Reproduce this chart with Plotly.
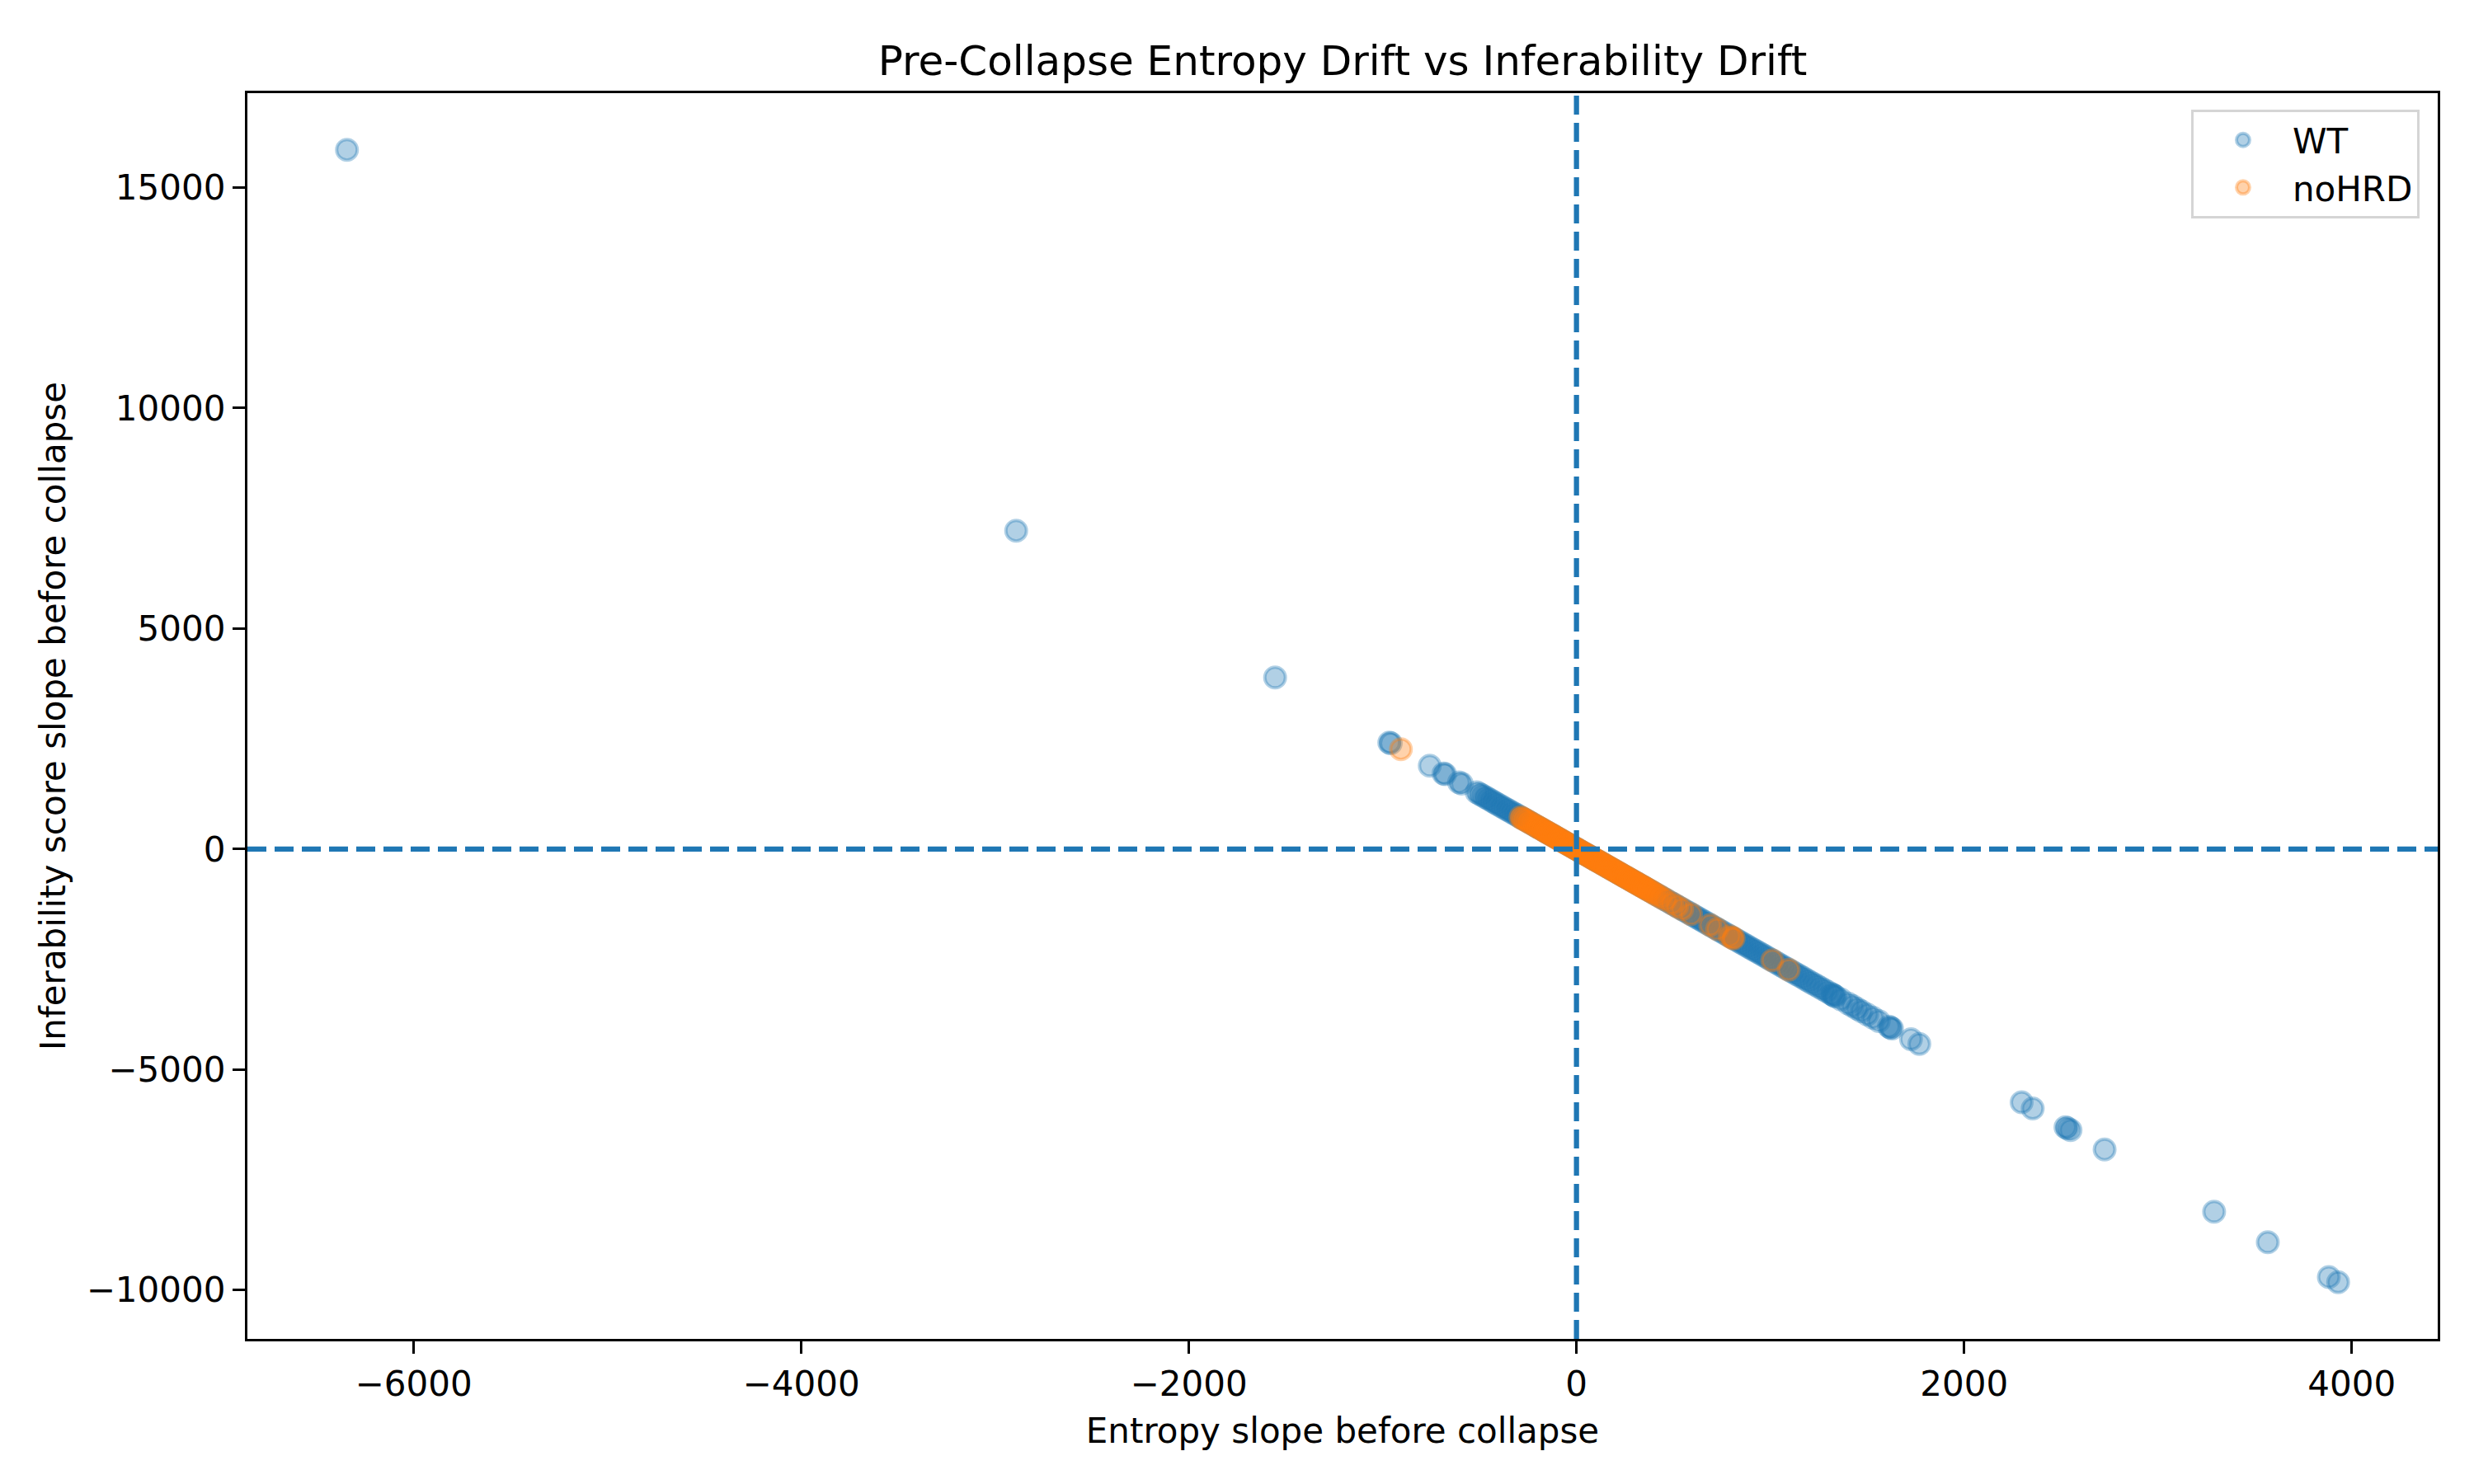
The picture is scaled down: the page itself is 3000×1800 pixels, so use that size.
import plotly.graph_objects as go

# ---- data ----
wt_x = [-6344, -2891, -1555, -966, -958, -757, -686, -678, -606, -592,
        -515, -500, -488, -472, -460, -445, -431, -418, -405, -390, -377, -362, -350, -336, -322,
        -310, -297, -283, -270, -256, -243, -230, -216, -203, -190, -176, -162, -150, -136, -123,
        -110, -96, -83, -70, -57, -43, -30, -17, -4, 9, 22, 36, 49, 62, 76, 89, 102, 116, 129,
        142, 156, 169, 183, 196, 210, 224, 237, 251, 264, 278, 291, 305, 318, 332, 346, 359, 373,
        387, 400, 414, 428, 441, 455, 469, 483, 497, 510, 524, 538, 552, 566, 580, 594, 608, 622,
        636, 650, 664, 678, 692, 706, 720, 734, 748, 762, 777, 791, 805, 819, 834, 848, 862, 877,
        891, 906, 920, 935, 950, 965, 980, 995, 1010, 1026, 1041, 1057, 1072, 1088, 1104, 1120,
        1136, 1152, 1169, 1186, 1203, 1220, 1238, 1256, 1275, 1294, 1314, 1322, 1330, 1336,
        1365, 1402, 1425, 1448, 1470, 1500, 1530, 1560, 1612, 1620, 1628, 1726, 1769,
        2297, 2354, 2523, 2533, 2549, 2725, 3290, 3567, 3882, 3930]
wt_y = [15857, 7220, 3890, 2415, 2400, 1890, 1712, 1698, 1512, 1482,
        1288, 1250, 1220, 1180, 1150, 1112, 1078, 1045, 1012, 975, 942, 905, 875, 840, 805,
        775, 742, 708, 675, 640, 608, 575, 540, 508, 475, 440, 405, 375, 340, 308,
        275, 240, 208, 175, 142, 108, 75, 42, 10, -22, -55, -90, -122, -155, -190, -222, -255, -290, -322,
        -355, -390, -422, -458, -490, -525, -560, -592, -628, -660, -695, -728, -762, -795, -830, -865, -898, -932,
        -968, -1000, -1035, -1070, -1102, -1138, -1172, -1208, -1242, -1275, -1310, -1345, -1380, -1415, -1450, -1485, -1520, -1555,
        -1590, -1625, -1660, -1695, -1730, -1765, -1800, -1835, -1870, -1905, -1942, -1978, -2012, -2048, -2085, -2120, -2155, -2192,
        -2228, -2265, -2300, -2338, -2375, -2412, -2450, -2488, -2525, -2565, -2602, -2642, -2680, -2720, -2760, -2800,
        -2840, -2880, -2922, -2965, -3008, -3050, -3095, -3140, -3188, -3235, -3285, -3305, -3325, -3340,
        -3412, -3505, -3562, -3620, -3675, -3750, -3825, -3900, -4030, -4050, -4070, -4315, -4422,
        -5745, -5885, -6308, -6332, -6372, -6812, -8225, -8918, -9705, -9825]

nohrd_x = [-906, -289, -281, -272, -262, -250, -240, -228, -215, -205, -196,
           -187, -178, -170, -162, -154, -146, -138, -130, -122, -114, -106, -98, -90, -82, -74,
           -66, -58, -50, -42, -34, -26, -18, -10, -2, 6, 14, 22, 30, 38, 46, 54, 62, 70, 78,
           86, 94, 102, 110, 118, 126, 134, 142, 150, 158, 166, 174, 182, 190, 198, 206, 214,
           222, 230, 238, 246, 254, 262, 270, 278, 286, 294, 302, 310, 318, 326, 334, 342, 350,
           358, 366, 376, 386, 398, 410, 424, 440, 460, 493, 519, 545, 591, 690, 726, 790, 805,
           811, 1010, 1095]
nohrd_y = [2265, 722, 702, 680, 655, 625, 600, 570, 538, 512, 490,
           468, 445, 425, 405, 385, 365, 345, 325, 305, 285, 265, 245, 225, 205, 185,
           165, 145, 125, 105, 85, 65, 45, 25, 5, -15, -35, -55, -75, -95, -115, -135, -155, -175, -195,
           -215, -235, -255, -275, -295, -315, -335, -355, -375, -395, -415, -435, -455, -475, -495, -515, -535,
           -555, -575, -595, -615, -635, -655, -675, -695, -715, -735, -755, -775, -795, -815, -835, -855, -875,
           -895, -915, -940, -965, -995, -1025, -1060, -1100, -1150, -1232, -1298, -1362, -1478, -1725, -1815, -1975, -2012,
           -2028, -2525, -2738]

x_ticks = [-6000, -4000, -2000, 0, 2000, 4000]
x_tick_text = ["\u22126000", "\u22124000", "\u22122000", "0", "2000", "4000"]
y_ticks = [-10000, -5000, 0, 5000, 10000, 15000]
y_tick_text = ["\u221210000", "\u22125000", "0", "5000", "10000", "15000"]

title = "Pre-Collapse Entropy Drift vs Inferability Drift"
x_label = "Entropy slope before collapse"
y_label = "Inferability score slope before collapse"

BLUE = "rgba(31,119,180,0.35)"
ORANGE = "rgba(255,127,14,0.35)"
FONT = "DejaVu Sans"

# axis limits: data range padded by 5% (matplotlib autoscale)
def padded(vals):
    lo, hi = min(vals), max(vals)
    span = hi - lo
    return [lo - 0.05 * span, hi + 0.05 * span]

x_range = padded(wt_x + nohrd_x)
y_range = padded(wt_y + nohrd_y)

fig = go.Figure()
fig.add_trace(go.Scatter(
    x=wt_x, y=wt_y, mode="markers", name="WT",
    marker=dict(size=25, color=BLUE, line=dict(color=BLUE, width=4)),
))
fig.add_trace(go.Scatter(
    x=nohrd_x, y=nohrd_y, mode="markers", name="noHRD",
    marker=dict(size=25, color=ORANGE, line=dict(color=ORANGE, width=4)),
))

dash_line = dict(color="#1f77b4", width=6.25, dash="23px,10px")
fig.add_shape(type="line", xref="paper", yref="y", x0=0, x1=1, y0=0, y1=0,
              line=dash_line, layer="above")
fig.add_shape(type="line", xref="x", yref="paper", x0=0, x1=0, y0=0, y1=1,
              line=dash_line, layer="above")

axis_common = dict(
    showgrid=False, zeroline=False,
    showline=True, linecolor="black", linewidth=3.3, mirror=True,
    ticks="outside", ticklen=15, tickwidth=3.3, tickcolor="black",
    tickfont=dict(family=FONT, size=42, color="black"),
)

fig.update_layout(
    width=3000, height=1800,
    margin=dict(l=300, r=44, t=113, b=176),
    paper_bgcolor="white", plot_bgcolor="white",
    font=dict(family=FONT, size=42, color="black"),
    title=dict(text=title, x=(300 + 2956) / 2 / 3000, xanchor="center",
               y=1 - 73 / 1800, yanchor="middle",
               font=dict(family=FONT, size=50, color="black")),
    xaxis=dict(range=x_range, tickvals=x_ticks, ticktext=x_tick_text,
               title=dict(text=x_label, font=dict(family=FONT, size=42), standoff=20),
               **axis_common),
    yaxis=dict(range=y_range, tickvals=y_ticks, ticktext=y_tick_text,
               title=dict(text=y_label, font=dict(family=FONT, size=42), standoff=12),
               **axis_common),
    showlegend=True,
    legend=dict(x=0.9917, xanchor="right", y=0.9868, yanchor="top",
                bgcolor="rgba(255,255,255,0.8)", bordercolor="#d5d5d5", borderwidth=3,
                font=dict(family=FONT, size=42, color="black"),
                itemwidth=110, tracegroupgap=0),
)

fig.write_html("out.html")
